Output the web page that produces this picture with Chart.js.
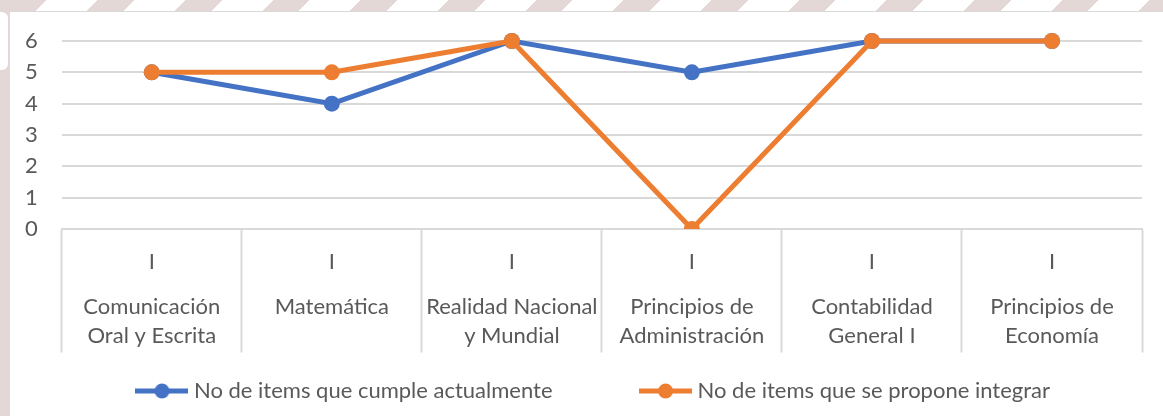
<!DOCTYPE html>
<html lang="es">
<head>
<meta charset="UTF-8">
<title>Items por asignatura</title>
<script src="https://cdn.jsdelivr.net/npm/chart.js@4.4.1/dist/chart.umd.min.js"></script>
<style>
  html, body { margin: 0; padding: 0; }
  body { width: 1163px; height: 416px; position: relative; overflow: hidden; background: #e3d8d5; }
  #stripes { position: absolute; left: 10px; top: 0; right: 0; height: 12px;
    background: repeating-linear-gradient(135deg, #e3d8d5 0 26px, #ffffff 26px 62px); }
  #notch { position: absolute; left: 0; top: 12px; width: 8px; height: 58px; background: #fff; border-radius: 0 6px 6px 0; }
  #panel { position: absolute; left: 10px; top: 11px; right: 0; bottom: 0; background: #fff; border-top: 1px solid #d9d9d9; }
  #wrap { position: absolute; left: 0; top: 0; width: 1163px; height: 416px; }
</style>
</head>
<body>
<div id="stripes"></div>
<div id="notch"></div>
<div id="panel"></div>
<div id="wrap"><canvas id="chart"></canvas></div>

<script>
// datos
const tiers = ['I', 'I', 'I', 'I', 'I', 'I'];
const courses = [
  ['Comunicación', 'Oral y Escrita'],
  ['Matemática'],
  ['Realidad Nacional', 'y Mundial'],
  ['Principios de', 'Administración'],
  ['Contabilidad', 'General I'],
  ['Principios de', 'Economía']
];
const currentItems = [5, 4, 6, 5, 6, 6];
const proposedItems = [5, 5, 6, 0, 6, 6];
const yTicks = [0, 1, 2, 3, 4, 5, 6];
const seriesNames = ['No de items que cumple actualmente', 'No de items que se propone integrar'];

const BLUE = '#4472C4';
const ORANGE = '#ED7D31';
const TEXT = '#595959';
const GRID = '#d9d9d9';
const FONT = 'Lato';
const SIZE = 22;
const LINE_H = 29;
const LEGEND_GAP = 92;

// muestra de leyenda: linea con punto
function lineSwatch(color) {
  const c = document.createElement('canvas');
  c.width = 53; c.height = 18;
  const g = c.getContext('2d');
  g.strokeStyle = color; g.lineWidth = 5;
  g.beginPath(); g.moveTo(0, 9); g.lineTo(53, 9); g.stroke();
  g.fillStyle = color;
  g.beginPath(); g.arc(26.5, 9, 7.5, 0, Math.PI * 2); g.fill();
  return c;
}
const swatches = [lineSwatch(BLUE), lineSwatch(ORANGE)];

const font = { family: FONT, size: SIZE, lineHeight: LINE_H / SIZE };

function series(label, data, color, order) {
  return {
    label: label,
    data: data,
    borderColor: color,
    backgroundColor: color,
    borderWidth: 5,
    pointRadius: 8,
    pointHoverRadius: 8,
    pointBorderWidth: 0,
    order: order,
    clip: { left: 12, right: 12, top: 12, bottom: 0 }
  };
}

new Chart(document.getElementById('chart'), {
  type: 'line',
  data: {
    labels: tiers,
    datasets: [
      series(seriesNames[0], currentItems, BLUE, 1),
      series(seriesNames[1], proposedItems, ORANGE, 0)
    ]
  },
  options: {
    responsive: true,
    maintainAspectRatio: false,
    animation: false,
    layout: { padding: { left: 1, right: 21, top: 41, bottom: 4 } },
    plugins: {
      tooltip: { enabled: false },
      legend: {
        position: 'bottom',
        align: 'end',
        // titulo vacio con relleno negativo: compensa el padding horizontal grande
        title: { display: true, text: '', font: { size: 1 }, padding: { top: 29.5 - LEGEND_GAP - 1.2, bottom: 0 } },
        labels: {
          usePointStyle: true,
          pointStyleWidth: 42,
          padding: LEGEND_GAP,
          color: TEXT,
          font: { family: FONT, size: SIZE },
          generateLabels: chart => chart.data.datasets.map((ds, i) => ({
            text: ds.label,
            pointStyle: swatches[i],
            fillStyle: ds.borderColor,
            strokeStyle: ds.borderColor,
            lineWidth: 0,
            fontColor: TEXT,
            hidden: false,
            datasetIndex: i
          }))
        }
      }
    },
    scales: {
      y: {
        min: 0,
        max: 6,
        afterBuildTicks: s => { s.ticks = yTicks.map(v => ({ value: v })); },
        grid: { color: GRID, lineWidth: 2, drawTicks: false },
        border: { display: false },
        ticks: { color: TEXT, font: { family: FONT, size: SIZE }, padding: 24, autoSkip: false }
      },
      x: {
        type: 'category',
        position: 'bottom',
        offset: true,
        grid: { offset: true, drawOnChartArea: false, tickLength: 48, tickColor: GRID, tickWidth: 2, color: GRID },
        border: { display: true, color: GRID, width: 2 },
        ticks: { color: TEXT, font: font, padding: -29.5, maxRotation: 0, autoSkip: false },
        afterFit: s => { s.height = 47.5; }
      },
      x2: {
        type: 'category',
        position: 'bottom',
        labels: courses,
        offset: true,
        grid: { offset: true, drawOnChartArea: false, tickLength: 76, tickColor: GRID, tickWidth: 2, color: GRID },
        border: { display: false },
        ticks: { color: TEXT, font: font, padding: -60, maxRotation: 0, autoSkip: false },
        afterFit: s => { s.height = 74; }
      }
    }
  }
});
</script>
</body>
</html>
